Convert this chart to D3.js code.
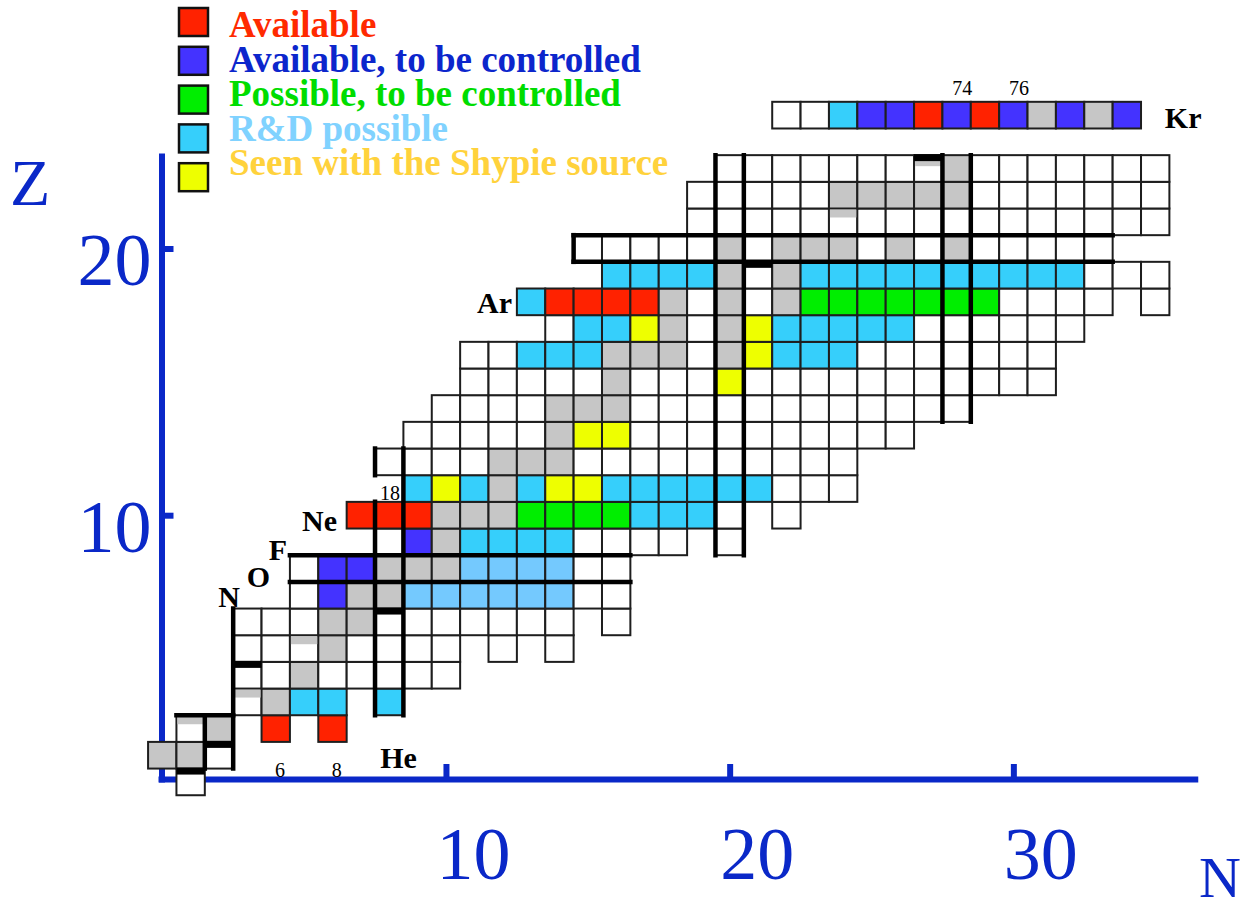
<!DOCTYPE html>
<html>
<head>
<meta charset="utf-8">
<script src="https://cdn.jsdelivr.net/npm/d3@7"></script>
<style>
  html, body { margin: 0; background: #ffffff; }
  svg { display: block; }
</style>
</head>
<body>
<svg id="chart" width="1247" height="909"></svg>
<script>
// ---- Nuclide data: one row per element (Z = index), one character per neutron number ----
// w plain, g stable, r available, b available (to be controlled), G possible (to be controlled),
// c R&D possible, l R&D possible (light), y seen with the source, h stable band, k long-lived bar,
// v bar + stable band, . not drawn
const elements = ["n","H","He","Li","Be","B","C","N","O","F","Ne","Na","Mg","Al","Si","P","S","Cl","Ar","K","Ca","Sc","Ti","V"];
const firstN = [1, 0, 1, 3, 3, 3, 3, 5, 5, 8, 7, 9, 8, 9, 10, 11, 11, 14, 13, 16, 15, 19, 19, 20];
const cellStatus = [
  "k",
  "ggk",
  "hg.r.r",
  "hgcc.c",
  "kwgwwwww",
  "wwhgwwww.w.w",
  "wwwggkwwwwww.w",
  "wbggllllllww",
  "wbbgggllllww",
  "wbgccccwwww.w",
  "rrrgggGGGGcccw.w",
  "cycgcyyccccccwww",
  "wwwwgggwwwwwwwwww",
  "wwwwwgyywwwwwwwwww",
  "wwwwgggwwwwwwwwwwww",
  "wwwwwgwwwywwwwwwwwwww",
  "wwcccgggwgycccwwwwwww",
  "wccygwgycccccwwwwww",
  "crrrrgwgwgGGGGGGGwwww.w",
  "ccccgkgccccccccccwww",
  "wwwwwgwgggwgwgwwwww",
  "wwwwwhwwwwwwwwwww",
  "wwwwwgggggwwwwwww",
  "wwwwwwwvgwwwwwww"
];

// Krypton strip drawn above the main chart
const krSymbol = "Kr";
const krStatus = "wwcbbrbrbgbgb";
const krMassLabels = ["74", "76"];
const krMassIndex = [6, 8];

// He isotopes marked below the chart, Ne-18 marked above its cell
const heMassLabels = ["6", "8"];
const heMassN = [4, 6];
const neMassLabel = "18";

// Magic numbers outlined with heavy lines: [edge, first row/col, last row/col]
const magicVertical = [[2, 1, 2], [3, 1, 6], [8, 3, 10], [8, 12, 12], [9, 3, 12],
                       [20, 9, 23], [21, 9, 23], [28, 14, 23], [29, 14, 23], [15, 20, 20]];
const magicHorizontal = [[3, 1, 2], [8, 5, 16], [9, 5, 16], [20, 15, 33], [21, 15, 33]];

// Axes
const nTicks = [10, 20, 30];
const zTicks = [10, 20];

// Legend
const legendLabels = ["Available", "Available, to be controlled", "Possible, to be controlled",
                      "R&D possible", "Seen with the Shypie source"];
const legendKeys = ["r", "b", "G", "c", "y"];
const legendTextColors = ["#ff2a00", "#0c26cc", "#00dd00", "#80d2ff", "#ffd23c"];

// ---- Styles ----
const fills = { w: "#ffffff", g: "#c6c6c6", r: "#ff2200", b: "#4433ff", G: "#00ee00",
                c: "#36cffb", l: "#74c9fe", y: "#eeff00", h: "#ffffff", k: "#ffffff", v: "#ffffff" };
const axisBlue = "#0a28c8";
const serif = "'Liberation Serif', 'Times New Roman', serif";
const colW = 28.37, rowH = 26.67;

const svg = d3.select("#chart");

// Scales: value N or Z maps to the centre of its column / row
const x = d3.scaleLinear().domain([-0.15, 36.5]).range([158, 158 + 36.65 * colW]);
const y = d3.scaleLinear().domain([0, 23.58]).range([781.9, 781.9 - 23.58 * rowH]);
const edgeX = n => x(n - 0.5);   // left edge of column n
const edgeY = z => y(z - 0.5);   // bottom edge of row z

// ---- Axes ----
const gx = svg.append("g").attr("transform", "translate(0,779)")
  .call(d3.axisBottom(x).tickValues(nTicks).tickSize(-15).tickSizeOuter(0).tickPadding(0));
gx.select(".domain").attr("stroke", axisBlue).attr("stroke-width", 6);
gx.selectAll(".tick line").attr("stroke", axisBlue).attr("stroke-width", 6);
gx.selectAll(".tick text").attr("fill", axisBlue).attr("font-family", serif)
  .attr("font-size", 74).attr("dy", null).attr("x", 27).attr("y", 100);

const gy = svg.append("g").attr("transform", "translate(161.5,0)")
  .call(d3.axisLeft(y).tickValues(zTicks).tickSize(-12).tickSizeOuter(0).tickPadding(0));
gy.select(".domain").attr("stroke", axisBlue).attr("stroke-width", 6);
gy.selectAll(".tick line").attr("stroke", axisBlue).attr("stroke-width", 6);
gy.selectAll(".tick text").attr("fill", axisBlue).attr("font-family", serif)
  .attr("font-size", 74).attr("dy", null).attr("x", -10).attr("y", 36);

svg.append("text").attr("x", 10).attr("y", 205).attr("fill", axisBlue)
  .attr("font-family", serif).attr("font-size", 66).text("Z");
svg.append("text").attr("x", 1199).attr("y", 897).attr("fill", axisBlue)
  .attr("font-family", serif).attr("font-size", 58).text("N");

// ---- Cells ----
const cells = [];
cellStatus.forEach((row, z) => {
  row.split("").forEach((s, i) => {
    if (s !== ".") cells.push({ z, n: firstN[z] + i, s });
  });
});
const krRow = elements.length + 1;
krStatus.split("").forEach((s, i) => cells.push({ z: krRow, n: 22 + i, s }));

const gCells = svg.append("g");
gCells.selectAll("rect.cell").data(cells).join("rect")
  .attr("class", "cell")
  .attr("x", d => edgeX(d.n)).attr("y", d => edgeY(d.z + 1))
  .attr("width", colW).attr("height", rowH)
  .attr("fill", d => fills[d.s])
  .attr("stroke", "#1e1e1e").attr("stroke-width", 2);

// Stable-abundance bands and long-lived bars on top of cells
gCells.selectAll("rect.band").data(cells.filter(d => d.s === "h")).join("rect")
  .attr("class", "band")
  .attr("x", d => edgeX(d.n) + 1).attr("y", d => edgeY(d.z + 1) + 1)
  .attr("width", colW - 2).attr("height", 8).attr("fill", "#c6c6c6");
gCells.selectAll("rect.vband").data(cells.filter(d => d.s === "v")).join("rect")
  .attr("class", "vband")
  .attr("x", d => edgeX(d.n) + 1).attr("y", d => edgeY(d.z + 1) + 6)
  .attr("width", colW - 2).attr("height", 5).attr("fill", "#c6c6c6");
gCells.selectAll("rect.bar").data(cells.filter(d => d.s === "k" || d.s === "v")).join("rect")
  .attr("class", "bar")
  .attr("x", d => edgeX(d.n)).attr("y", d => edgeY(d.z + 1) - 1)
  .attr("width", colW).attr("height", 7).attr("fill", "#000");

// ---- Magic-number lines ----
const gMagic = svg.append("g").attr("stroke", "#000").attr("stroke-width", 4.5).attr("stroke-linecap", "square");
gMagic.selectAll("line.v").data(magicVertical).join("line").attr("class", "v")
  .attr("x1", d => edgeX(d[0])).attr("x2", d => edgeX(d[0]))
  .attr("y1", d => edgeY(d[1])).attr("y2", d => edgeY(d[2] + 1));
gMagic.selectAll("line.h").data(magicHorizontal).join("line").attr("class", "h")
  .attr("y1", d => edgeY(d[0])).attr("y2", d => edgeY(d[0]))
  .attr("x1", d => edgeX(d[1])).attr("x2", d => edgeX(d[2] + 1));

// ---- Element symbols and mass labels ----
const symbolLabels = [
  { t: "N", n: 2.74, z: 6.56, a: "end" },
  { t: "O", n: 3.80, z: 7.31, a: "end" },
  { t: "F", n: 4.40, z: 8.32, a: "end" },
  { t: "Ne", n: 6.16, z: 9.41, a: "end" },
  { t: "Ar", n: 12.33, z: 17.58, a: "end" },
  { t: "He", n: 7.68, z: 0.52, a: "start" },
  { t: krSymbol, n: 35.34, z: krRow - 0.48, a: "start" }
];
svg.append("g").selectAll("text").data(symbolLabels).join("text")
  .attr("x", d => x(d.n)).attr("y", d => y(d.z))
  .attr("text-anchor", d => d.a)
  .attr("font-family", serif).attr("font-weight", "bold").attr("font-size", 30)
  .text(d => d.t);

const massLabels = [
  ...heMassLabels.map((t, i) => ({ t, n: heMassN[i] + 0.15, z: 0.18 })),
  { t: neMassLabel, n: 8.03, z: 10.57 },
  ...krMassLabels.map((t, i) => ({ t, n: 22 + krMassIndex[i] + 0.2, z: krRow + 0.75 }))
];
svg.append("g").selectAll("text").data(massLabels).join("text")
  .attr("x", d => x(d.n)).attr("y", d => y(d.z))
  .attr("text-anchor", "middle")
  .attr("font-family", serif).attr("font-size", 20)
  .text(d => d.t);

// ---- Legend ----
const gLegend = svg.append("g");
gLegend.selectAll("rect").data(legendKeys).join("rect")
  .attr("x", 179).attr("y", (d, i) => 8 + i * 38.8)
  .attr("width", 29).attr("height", 28)
  .attr("fill", d => fills[d]).attr("stroke", "#111").attr("stroke-width", 2.5);
gLegend.selectAll("text").data(legendLabels).join("text")
  .attr("x", 229).attr("y", (d, i) => 37 + i * 34.6)
  .attr("fill", (d, i) => legendTextColors[i])
  .attr("font-family", serif).attr("font-weight", "bold").attr("font-size", 37)
  .text(d => d);
</script>
</body>
</html>
